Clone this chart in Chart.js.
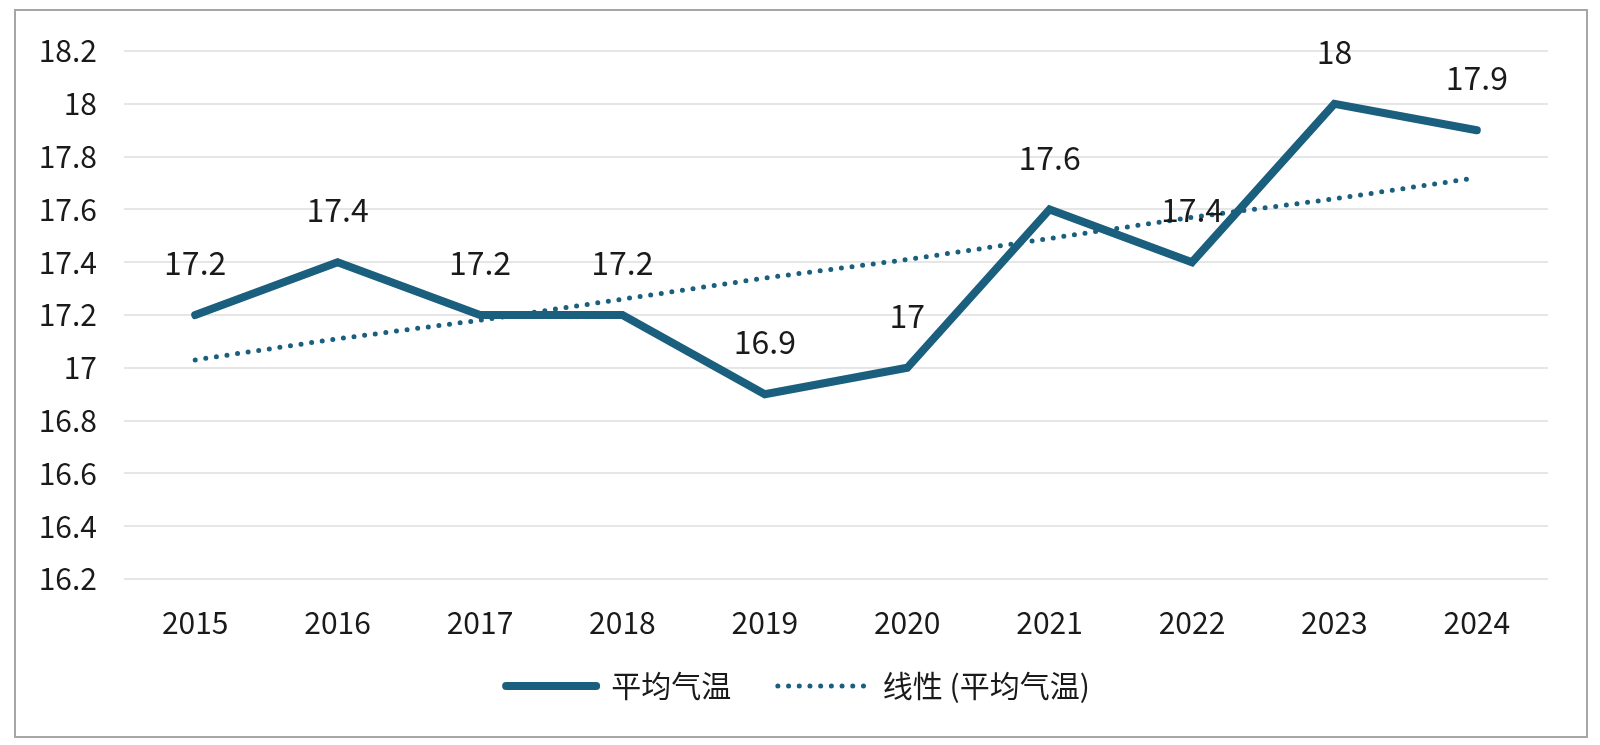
<!DOCTYPE html>
<html>
<head>
<meta charset="utf-8">
<script src="https://cdn.jsdelivr.net/npm/chart.js@4"></script>
<style>
  html, body { margin: 0; padding: 0; background: #fff; }
  #wrap { width: 1600px; height: 745px; }
</style>
</head>
<body>
<div id="wrap"><canvas id="chart" width="1600" height="745"></canvas></div>
<script>
// data
var years = ['2015', '2016', '2017', '2018', '2019', '2020', '2021', '2022', '2023', '2024'];
var avgTemp = [17.2, 17.4, 17.2, 17.2, 16.9, 17.0, 17.6, 17.4, 18.0, 17.9];
var trendTemp = [17.03, 17.11, 17.18, 17.26, 17.34, 17.41, 17.49, 17.57, 17.64, 17.72];
var seriesNames = ['平均气温', '线性 (平均气温)'];

var lineColor = '#1b5f7e';
var fontFamily = '"Noto Sans CJK SC", "Noto Sans", sans-serif';
var dotDash = [0, 10.7];

// value labels above the solid line
const valueLabels = {
    id: 'valueLabels',
    afterDatasetsDraw: function (chart) {
        var ctx = chart.ctx;
        var meta = chart.getDatasetMeta(0);
        ctx.save();
        ctx.font = '32px ' + fontFamily;
        ctx.fillStyle = '#1a1a1a';
        ctx.textAlign = 'center';
        ctx.textBaseline = 'middle';
        meta.data.forEach(function (pt, i) {
            ctx.fillText(String(avgTemp[i]), pt.x, pt.y - 52);
        });
        ctx.restore();
    }
};

// grey frame round the whole chart
const frame = {
    id: 'frame',
    afterDraw: function (chart) {
        var ctx = chart.ctx;
        ctx.save();
        ctx.strokeStyle = '#a6a6a6';
        ctx.lineWidth = 2;
        ctx.strokeRect(15, 10, 1572, 727);
        ctx.restore();
    }
};

Chart.defaults.font.family = fontFamily;
Chart.defaults.color = '#1a1a1a';

new Chart(document.getElementById('chart').getContext('2d'), {
    type: 'line',
    data: {
        labels: years,
        datasets: [
            {
                label: seriesNames[0],
                data: avgTemp,
                borderColor: lineColor,
                backgroundColor: lineColor,
                borderWidth: 8,
                borderCapStyle: 'round',
                borderJoinStyle: 'miter',
                pointRadius: 0,
                tension: 0
            },
            {
                label: seriesNames[1],
                data: trendTemp,
                borderColor: lineColor,
                backgroundColor: lineColor,
                borderWidth: 5,
                borderCapStyle: 'round',
                borderDash: dotDash,
                pointRadius: 0,
                tension: 0
            }
        ]
    },
    plugins: [valueLabels, frame],
    options: {
        responsive: false,
        animation: false,
        layout: {
            padding: { left: 0, right: 4, top: 51, bottom: 34 }
        },
        scales: {
            x: {
                offset: true,
                grid: { display: false },
                border: { display: false },
                ticks: { font: { size: 30 }, padding: 18, maxRotation: 0 },
                afterFit: function (scale) { scale.height = 82; }
            },
            y: {
                min: 16.2,
                max: 18.2,
                grid: { color: '#e6e6e6', lineWidth: 2, drawTicks: false },
                border: { display: false },
                ticks: {
                    stepSize: 0.2,
                    padding: 27,
                    font: { size: 30 },
                    callback: function (value) {
                        return String(Number(value.toFixed(1)));
                    }
                },
                afterFit: function (scale) { scale.width = 124; }
            },
            // empty right-hand margin
            yRight: {
                position: 'right',
                min: 16.2,
                max: 18.2,
                grid: { display: false },
                border: { display: false },
                ticks: { display: false },
                afterFit: function (scale) { scale.width = 48; }
            }
        },
        plugins: {
            tooltip: { enabled: false },
            legend: {
                position: 'bottom',
                align: 'center',
                labels: {
                    usePointStyle: true,
                    pointStyle: 'line',
                    pointStyleWidth: 90,
                    padding: 10,
                    font: { size: 30 },
                    color: '#1a1a1a',
                    generateLabels: function (chart) {
                        var items = Chart.defaults.plugins.legend.labels.generateLabels(chart);
                        // widen the gap after the first entry
                        items[0].text = items[0].text + '\u3000 ';
                        items[0].lineWidth = 8;
                        items[0].lineCap = 'round';
                        items[1].lineWidth = 5;
                        items[1].lineCap = 'round';
                        items[1].lineDash = dotDash;
                        return items;
                    }
                }
            }
        }
    }
});
</script>
</body>
</html>
